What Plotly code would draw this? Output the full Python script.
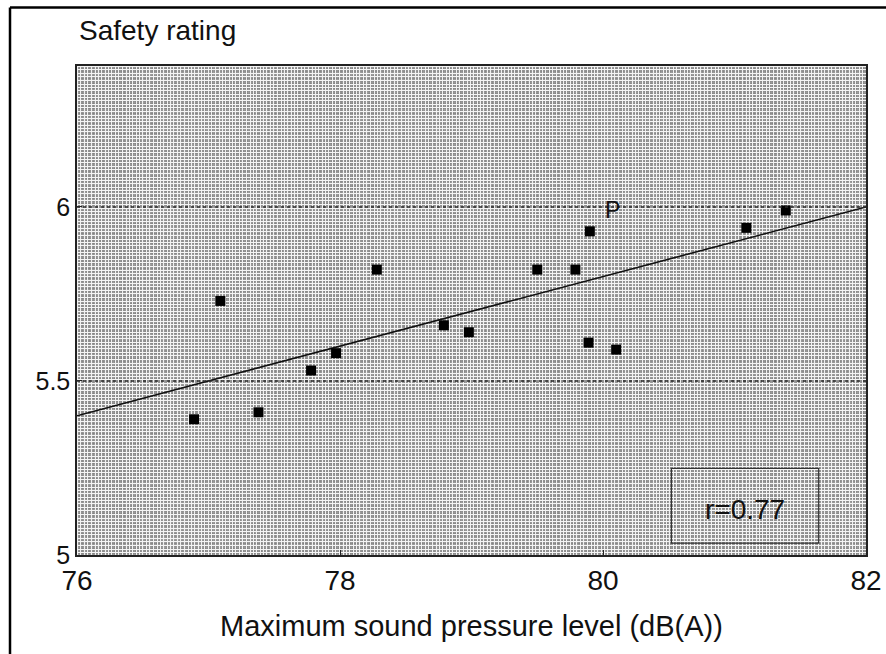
import base64
import struct
import zlib

import numpy as np
import plotly.graph_objects as go

# Maximum sound pressure level (dB(A)) and mean safety rating per sample
spl = [76.89, 77.09, 77.38, 77.78, 77.97, 78.28, 78.79, 78.98,
       79.50, 79.79, 79.90, 79.89, 80.10, 81.09, 81.39]
rating = [5.39, 5.73, 5.41, 5.53, 5.58, 5.82, 5.66, 5.64,
          5.82, 5.82, 5.93, 5.61, 5.59, 5.94, 5.99]

# Fitted regression line: rating = intercept + slope * (spl - 76)
fit_x = [76, 82]
fit_intercept = 5.40
fit_slope = 0.10
fit_y = [fit_intercept + fit_slope * (x - 76) for x in fit_x]

r_label = "r=0.77"
point_label = "P"
point_label_pos = (80.07, 5.99)

x_ticks = [76, 78, 80, 82]
y_ticks = [5, 5.5, 6]

FONT = "Liberation Sans, Arial, Helvetica, sans-serif"

# Plot-area size in pixels (figure size minus margins)
W, H = 886, 654
ML, MR, MT, MB = 77, 20, 66, 99
PW, PH = W - ML - MR, H - MT - MB


def screen_png(width, height):
    """Grey halftone screen: a lattice of light lines over darker cells."""
    steps = [3, 4, 3, 4, 4, 3, 3, 4, 3]
    def lines(n):
        mask = np.zeros(n, dtype=bool)
        pos, k = 0, 0
        while pos < n:
            mask[pos] = True
            pos += steps[k % len(steps)]
            k += 1
        return mask
    cols = lines(width)
    rows = lines(height)
    base = 142
    # cell shade varies slightly along a repeating cycle
    shade = np.array([0, 14, -10, 20, 4, -6, 12], dtype=np.int16)
    img = (base
           + shade[np.arange(width) % 7][None, :] // 2
           + shade[np.arange(height) % 5][:, None] // 2)
    img = np.clip(img, 0, 255).astype(np.uint8)
    img[:, cols] = 240
    img[rows, :] = 245
    raw = b"".join(b"\x00" + img[r].tobytes() for r in range(height))

    def chunk(tag, data):
        c = struct.pack(">I", len(data)) + tag + data
        return c + struct.pack(">I", zlib.crc32(tag + data) & 0xFFFFFFFF)

    png = (b"\x89PNG\r\n\x1a\n"
           + chunk(b"IHDR", struct.pack(">IIBBBBB", width, height, 8, 0, 0, 0, 0))
           + chunk(b"IDAT", zlib.compress(raw, 9))
           + chunk(b"IEND", b""))
    return "data:image/png;base64," + base64.b64encode(png).decode("ascii")


fig = go.Figure()

fig.add_layout_image(dict(
    source=screen_png(PW, PH), xref="paper", yref="paper", x=0, y=1,
    sizex=1, sizey=1, xanchor="left", yanchor="top", sizing="stretch",
    layer="below",
))

fig.add_trace(go.Scatter(
    x=fit_x, y=fit_y, mode="lines",
    line=dict(color="#111111", width=1.6),
    hoverinfo="skip", showlegend=False,
))

fig.add_trace(go.Scatter(
    x=spl, y=rating, mode="markers",
    marker=dict(symbol="square", size=10, color="#000000",
                line=dict(width=0)),
    showlegend=False,
))

# dotted reference lines at the labelled ratings
for yv in [5.5, 6.0]:
    fig.add_shape(type="line", xref="x", yref="y", x0=76, x1=82, y0=yv, y1=yv,
                  line=dict(color="#2a2a2a", width=1.6, dash="dot"))

# r value box
fig.add_shape(type="rect", xref="x", yref="y", x0=80.52, x1=81.64, y0=5.034, y1=5.249,
              line=dict(color="#333333", width=1.2), fillcolor="rgba(0,0,0,0)")
fig.add_annotation(x=81.08, y=5.13, xref="x", yref="y", text=r_label,
                   showarrow=False, font=dict(family=FONT, size=28, color="#111111"))

fig.add_annotation(x=point_label_pos[0], y=point_label_pos[1], xref="x", yref="y",
                   text=point_label, showarrow=False,
                   font=dict(family=FONT, size=23, color="#111111"))

# outer frame: top and left edges
fx = (10 - ML) / PW
fy = (H - MB - 7.5) / PH
fig.add_shape(type="line", xref="paper", yref="paper", x0=fx, x1=1.05,
              y0=fy, y1=fy, line=dict(color="#000000", width=2.5))
fig.add_shape(type="line", xref="paper", yref="paper", x0=fx, x1=fx,
              y0=fy, y1=-0.25, line=dict(color="#000000", width=2.5))

fig.add_annotation(x=0.0, y=1.0, xref="paper", yref="paper", yshift=36,
                   text="Safety rating", showarrow=False, xanchor="left", yanchor="middle",
                   font=dict(family=FONT, size=28, color="#111111"))

fig.add_annotation(x=0.5, y=-0.145, xref="paper", yref="paper",
                   text="Maximum sound pressure level (dB(A))", showarrow=False,
                   xanchor="center", yanchor="middle",
                   font=dict(family=FONT, size=29, color="#111111"))

fig.update_layout(
    width=W, height=H,
    margin=dict(l=ML, r=MR, t=MT, b=MB, autoexpand=False),
    paper_bgcolor="white",
    plot_bgcolor="#c2c2c2",
    font=dict(family=FONT, color="#111111"),
    xaxis=dict(range=[76, 82], tickvals=x_ticks, ticktext=[str(v) for v in x_ticks],
               showgrid=False, zeroline=False, showline=True, linecolor="#222222",
               linewidth=1.5, mirror=True, ticks="inside", ticklen=5, tickcolor="#222222",
               tickfont=dict(size=28, family=FONT), automargin=False),
    yaxis=dict(range=[5, 6.405], tickvals=y_ticks, ticktext=["5", "5.5", "6"],
               showgrid=False, zeroline=False, showline=True, linecolor="#222222",
               linewidth=1.5, mirror=True, ticks="inside", ticklen=5, tickcolor="#222222",
               tickfont=dict(size=25, family=FONT), automargin=False),
)

fig.write_html("out.html")
